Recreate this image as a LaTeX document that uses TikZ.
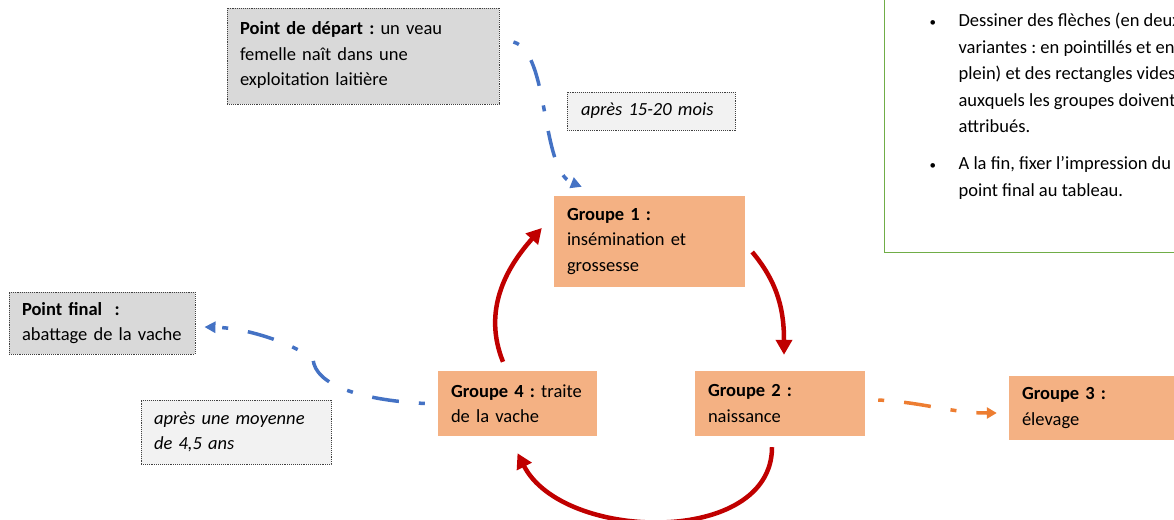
\documentclass[tikz,border=0pt]{standalone}
\usepackage{fontspec}
\setmainfont{Carlito}
\usepackage{tikz}
\usetikzlibrary{arrows.meta}
\definecolor{orangeclair}{HTML}{F4B183}
\definecolor{grismoyen}{HTML}{D9D9D9}
\definecolor{grisclair}{HTML}{F2F2F2}
\definecolor{bleufleche}{HTML}{4472C4}
\definecolor{orangefleche}{HTML}{ED7D31}
\definecolor{rougefonce}{HTML}{C00000}
\definecolor{vertcadre}{HTML}{70AD47}
\frenchspacing

\tikzset{
  etape/.style={rectangle, fill=orangeclair, inner sep=0pt, align=left,
    font=\fontsize{18.5}{25.5}\selectfont},
  cadre/.style={rectangle, fill=grismoyen, draw=black!75, densely dotted,
    line width=0.9pt, inner sep=0pt, align=left,
    font=\fontsize{18.5}{25.5}\selectfont},
  duree/.style={cadre, fill=grisclair,
    font=\fontsize{18.5}{25.5}\selectfont\itshape},
  boucle/.style={draw=rougefonce, line width=4.5pt,
    -{Triangle[length=15pt,width=16pt]}},
  tirets/.style={line width=3.5pt, dash pattern=on 6pt off 20pt on 27pt off 20pt},
}
\newcommand{\puce}{{\fontsize{13}{13}\selectfont\textbullet}}

\begin{document}
\begin{tikzpicture}[x=1pt, y=1pt]
\useasboundingbox (0, 0) rectangle (1174, -519);
\clip (0, 0) rectangle (1174, -519);
\node at (884, 40.5) [anchor=north west, draw=vertcadre, line width=1.2pt, inner xsep=45pt, inner ysep=48pt, font=\fontsize{18.5}{26.5}\selectfont] (consigne) {%
\begin{tabular}{@{}p{29pt}@{}l@{}}
\puce & Dessiner des flèches (en deux\\
 & variantes : en pointillés et en\\
 & plein) et des rectangles vides\\
 & auxquels les groupes doivent\\
 & attribués.\\[10.5pt]
\puce & A la fin, fixer l'impression du\\
 & point final au tableau.
\end{tabular}};
\node at (363, -56) [cadre, minimum width=272pt, minimum height=96pt, text width=246pt] (depart) {\textbf{Point de départ :} un veau\\femelle naît dans une\\exploitation laitière\rule[-4pt]{0pt}{0pt}};
\node at (651, -111) [duree, minimum width=168pt, minimum height=38pt, text width=140pt] (delai1) {après 15-20 mois};
\node at (649.5, -241.5) [etape, minimum width=191pt, minimum height=91pt, text width=165pt] (g1) {\textbf{Groupe 1 :}\\insémination et\\grossesse};
\node at (780, -403.5) [etape, minimum width=170pt, minimum height=65pt, text width=144pt] (g2) {\textbf{Groupe 2 :}\\naissance};
\node at (1094, -408) [etape, minimum width=170pt, minimum height=64pt, text width=144pt] (g3) {\textbf{Groupe 3 :}\\élevage};
\node at (517.5, -403.5) [etape, minimum width=159pt, minimum height=65pt, text width=133pt] (g4) {\textbf{Groupe 4 :} traite\\de la vache};
\node at (102, -323) [cadre, minimum width=186pt, minimum height=62pt, text width=160pt] (final) {\textbf{Point final\ \ :}\\abattage de la vache};
\node at (236, -432) [duree, minimum width=190pt, minimum height=64pt, text width=164pt] (delai2) {après une moyenne\\de 4,5 ans};
\coordinate (coude) at (313, -359);
\draw [boucle] ([xshift=-14.5pt, yshift=9pt]g4.north) to [out=112, in=-132] ([xshift=-12pt, yshift=13.5pt]g1.west);
\draw [boucle] ([xshift=7pt, yshift=-10.5pt]g1.east) to [out=-50, in=90] ([xshift=4pt, yshift=16pt]g2.north);
\draw [boucle] ([xshift=-8pt, yshift=-11pt]g2.south) to [out=-90, in=-63] ([yshift=-17pt]g4.south);
\draw [tirets, draw=bleufleche, -{Triangle[length=11pt,width=11pt]}] ([xshift=14pt, yshift=14pt]depart.east) .. controls (550, -52) and (540, -170) .. ([xshift=28pt, yshift=9pt]g1.north west);
\draw [tirets, draw=bleufleche, -{Triangle[length=11pt,width=11pt]}] ([xshift=-13pt]g4.west) .. controls (360, -400) and (315, -385) .. (coude) .. controls (295, -345) and (250, -328) .. ([xshift=9pt, yshift=-4pt]final.east);
\draw [tirets, draw=orangefleche, -{Triangle[length=10pt,width=11pt]}] ([xshift=13pt, yshift=3.5pt]g2.east) to [out=-3, in=180] ([xshift=-12pt, yshift=-5pt]g3.west);
\end{tikzpicture}
\end{document}
